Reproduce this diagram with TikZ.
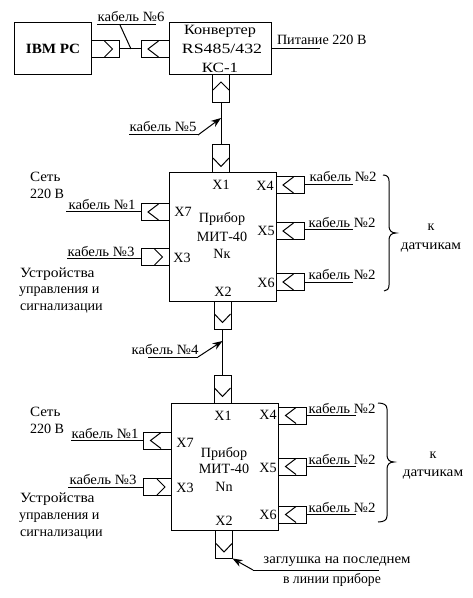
\documentclass[tikz,border=0pt]{standalone}
\usepackage{fontspec}
\setmainfont{Liberation Serif}
\usetikzlibrary{arrows.meta}
\tikzset{
  wire/.style={draw=black,line width=0.75pt},
  devbox/.style={draw=black,line width=0.75pt,rectangle,inner sep=0pt,outer sep=0pt},
  hplug/.style={devbox,minimum width=21pt,minimum height=12.75pt},
  vplug/.style={devbox,minimum width=12.75pt,minimum height=21pt},
  lab/.style={inner sep=0pt,outer sep=0pt,anchor=base,font=\fontsize{10.6pt}{12pt}\selectfont},
  labl/.style={lab,anchor=base west},
  head/.style={wire,-{Stealth[length=7.5pt,width=5.5pt]}}
}
\newcommand{\wdn}[2]{\scalebox{#1}[1]{#2}}
\newcommand{\cab}[1]{\wdn{1.05}{кабель №#1}}
\newcommand{\chvL}[1]{\draw[wire] ([shift={(3.5,-8)}]#1.center) -- ([shift={(-7,0)}]#1.center) -- ([shift={(3.5,8)}]#1.center);}
\newcommand{\chvR}[1]{\draw[wire] ([shift={(-0.5,-8)}]#1.center) -- ([shift={(7.5,0)}]#1.center) -- ([shift={(-0.5,8)}]#1.center);}
\newcommand{\chvD}[1]{\draw[wire] ([shift={(-8,-1)}]#1.center) -- ([shift={(0,7.5)}]#1.center) -- ([shift={(8,-1)}]#1.center);}
\newcommand{\chvU}[1]{\draw[wire] ([shift={(-8,1)}]#1.center) -- ([shift={(0,-7)}]#1.center) -- ([shift={(8,1)}]#1.center);}
\begin{document}
\begin{tikzpicture}[x=0.75pt,y=-0.75pt]
\useasboundingbox (0,0) rectangle (472,598);
% top row
\node[devbox,minimum width=57.75pt,minimum height=39pt] (pc) at (52.5,49) {};
\node[lab,font=\fontsize{10.6pt}{12pt}\selectfont\bfseries] (pct) at (53,54) {\wdn{1.07}{IBM PC}};
\node[devbox,minimum width=76.5pt,minimum height=39pt] (conv) at (220,49) {};
\node[lab] (c1) at (220,35) {\wdn{1.15}{Конвертер}};
\node[lab] (c2) at (222,54) {\wdn{1.26}{RS485/432}};
\node[lab] (c3) at (220,73) {\wdn{1.2}{КС-1}};
\node[hplug] (p1) at (105,49) {}; \chvR{p1}
\node[hplug] (p2) at (155,49) {}; \chvL{p2}
\draw[wire] (p1.east) -- (p2.west);
\coordinate (l6a) at (97,25); \coordinate (l6b) at (156,25); \coordinate (l6c) at (120,25); \coordinate (l6d) at (131,49);
\draw[wire] (l6a) -- (l6b); \draw[wire] (l6c) -- (l6d);
\node[lab] (t6) at (131,21.5) {\cab{6}};
\coordinate (pw) at (320,49);
\draw[wire] (conv.east |- pw) -- (pw);
\node[labl] (tp) at (277,45) {Питание 220 В};
% converter to device k
\node[vplug] (p3) at (221,89) {}; \chvU{p3}
\node[vplug] (p4) at (221,159) {}; \chvD{p4}
\draw[wire] (p3.south) -- (p4.north);
\coordinate (l5a) at (129,135); \coordinate (l5b) at (198,135); \coordinate (l5c) at (221,118);
\draw[wire] (l5a) -- (l5b); \draw[head] (l5b) -- (l5c);
\node[lab] (t5) at (163,132) {\cab{5}};
% device k
\node[devbox,minimum width=80.25pt,minimum height=96pt] (dk) at (222.5,237) {};
\node[lab] (k1) at (221,190) {X1};
\node[lab] (k2) at (223,296) {X2};
\node[lab] (k7) at (183,217) {X7};
\node[lab] (k3) at (182,262) {X3};
\node[lab] (k4) at (265,191) {X4};
\node[lab] (k5) at (266,235) {X5};
\node[lab] (k6) at (266,287) {X6};
\node[lab] (kn1) at (222,223) {Прибор};
\node[lab] (kn2) at (222,241) {МИТ-40};
\node[lab] (kn3) at (222,258) {Nк};
\node[hplug] (k7p) at (155,212) {}; \chvL{k7p}
\node[hplug] (k3p) at (155,257) {}; \chvR{k3p}
\node[hplug] (k4p) at (290,185) {}; \chvL{k4p}
\node[hplug] (k5p) at (290,231) {}; \chvL{k5p}
\node[hplug] (k6p) at (290,282) {}; \chvL{k6p}
\coordinate (k7e) at (66,212); \coordinate (k3e) at (67,258);
\coordinate (k4e) at (353,185); \coordinate (k5e) at (353,230); \coordinate (k6e) at (353,282);
\draw[wire] (k7e) -- (k7p.west |- k7e);
\draw[wire] (k3e) -- (k3p.west |- k3e);
\draw[wire] (k4p.east |- k4e) -- (k4e);
\draw[wire] (k5p.east |- k5e) -- (k5e);
\draw[wire] (k6p.east |- k6e) -- (k6e);
\node[lab] (kt1) at (102,210) {\cab{1}};
\node[lab] (kt3) at (101,256) {\cab{3}};
\node[lab] (kt4) at (343,182) {\cab{2}};
\node[lab] (kt5) at (342,228) {\cab{2}};
\node[lab] (kt6) at (342,279) {\cab{2}};
\node[labl] (ks1) at (30,182) {\wdn{1.07}{Сеть}};
\node[labl] (ks2) at (30,199) {220 В};
\node[labl] (ku1) at (20,277) {\wdn{1.1}{Устройства}};
\node[labl] (ku2) at (19,293) {управления и};
\node[labl] (ku3) at (20,310) {сигнализации};
\coordinate (kb0) at (383,175); \coordinate (kb1) at (396,233); \coordinate (kb2) at (384,291);
\draw[wire] (kb0) .. controls (387,175) and (389,177) .. (389,181) -- (389,226) .. controls (389,230) and (391,233) .. (kb1) .. controls (391,233) and (389,236) .. (389,240) -- (389,285) .. controls (389,289) and (387,291) .. (kb2);
\node[lab] (kk1) at (431,231) {к};
\node[lab] (kk2) at (431,249) {\wdn{1.08}{датчикам}};
% device k to device n
\node[vplug] (p5) at (222.5,315) {}; \chvD{p5}
\node[vplug] (p6) at (222.5,389) {}; \chvD{p6}
\draw[wire] (p5.south) -- (p6.north);
\coordinate (l4a) at (148,357); \coordinate (l4b) at (198,357); \coordinate (l4c) at (222.5,341);
\draw[wire] (l4a) -- (l4b); \draw[head] (l4b) -- (l4c);
\node[lab] (t4) at (165,354) {\cab{4}};
% device n
\node[devbox,minimum width=80.25pt,minimum height=95.25pt] (dn) at (224.5,466.5) {};
\node[lab] (n1) at (223,420) {X1};
\node[lab] (n2) at (224,525) {X2};
\node[lab] (n7) at (185,447) {X7};
\node[lab] (n3) at (185,492) {X3};
\node[lab] (n4) at (268,419) {X4};
\node[lab] (n5) at (268,472) {X5};
\node[lab] (n6) at (268,519) {X6};
\node[lab] (nn1) at (224,457) {Прибор};
\node[lab] (nn2) at (224,473) {МИТ-40};
\node[lab] (nn3) at (224,491) {Nn};
\node[hplug] (n7p) at (157.5,440.5) {}; \chvL{n7p}
\node[hplug] (n3p) at (157.5,487) {}; \chvR{n3p}
\node[hplug] (n4p) at (292.5,415.5) {}; \chvL{n4p}
\node[hplug] (n5p) at (292.5,466.5) {}; \chvL{n5p}
\node[hplug] (n6p) at (292.5,514.5) {}; \chvL{n6p}
\coordinate (n7e) at (71,440.5); \coordinate (n3e) at (68,487);
\coordinate (n4e) at (356,415.5); \coordinate (n5e) at (356,466.5); \coordinate (n6e) at (356,514.5);
\draw[wire] (n7e) -- (n7p.west |- n7e);
\draw[wire] (n3e) -- (n3p.west |- n3e);
\draw[wire] (n4p.east |- n4e) -- (n4e);
\draw[wire] (n5p.east |- n5e) -- (n5e);
\draw[wire] (n6p.east |- n6e) -- (n6e);
\node[lab] (nt1) at (105,438) {\cab{1}};
\node[lab] (nt3) at (103,484) {\cab{3}};
\node[lab] (nt4) at (342,413) {\cab{2}};
\node[lab] (nt5) at (342,464) {\cab{2}};
\node[lab] (nt6) at (342,512) {\cab{2}};
\node[labl] (ns1) at (30,416) {\wdn{1.07}{Сеть}};
\node[labl] (ns2) at (30,433) {220 В};
\node[labl] (nu1) at (20,502) {\wdn{1.1}{Устройства}};
\node[labl] (nu2) at (19,519) {управления и};
\node[labl] (nu3) at (20,536) {сигнализации};
\coordinate (nb0) at (378,403); \coordinate (nb1) at (394,462); \coordinate (nb2) at (378,522);
\draw[wire] (nb0) .. controls (384,403) and (387,405) .. (387,409) -- (387,455) .. controls (387,459) and (389,462) .. (nb1) .. controls (389,462) and (387,465) .. (387,469) -- (387,516) .. controls (387,520) and (384,522) .. (nb2);
\node[lab] (nk1) at (433,458) {к};
\node[lab] (nk2) at (433,476) {\wdn{1.08}{датчикам}};
% terminator
\node[vplug] (p7) at (224,544.5) {}; \chvD{p7}
\coordinate (ta) at (379,570); \coordinate (tb) at (253,570);
\draw[wire] (ta) -- (tb); \draw[head] (tb) -- (p7.south east);
\node[lab] (z1) at (337,563) {\wdn{1.05}{заглушка на последнем}};
\node[lab] (z2) at (332,583) {\wdn{0.97}{в линии приборе}};
\end{tikzpicture}
\end{document}
